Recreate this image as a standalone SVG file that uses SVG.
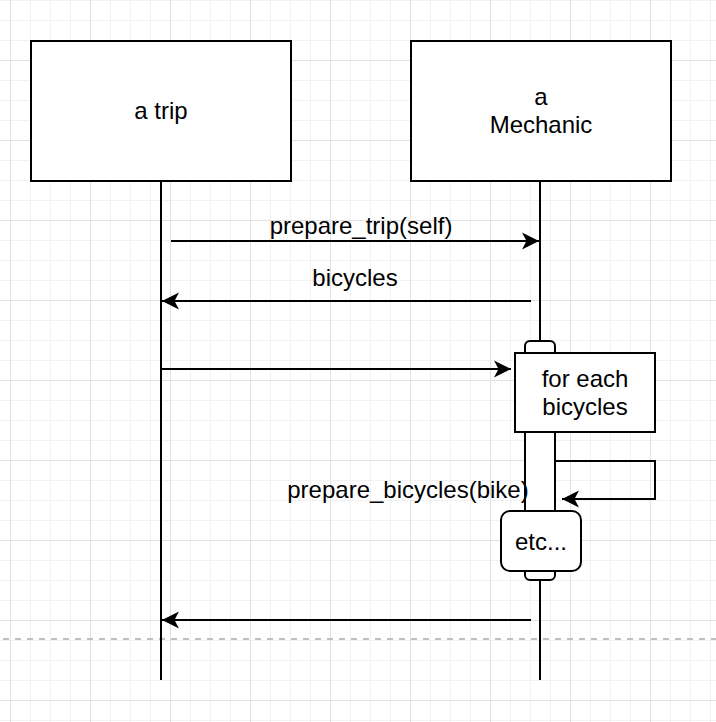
<svg xmlns="http://www.w3.org/2000/svg" width="716" height="722" viewBox="0 0 716 722">
<defs>
<style>
.minor{stroke:#f2f2f2;stroke-width:1;fill:none}
.major{stroke:#e2e2e2;stroke-width:1;fill:none}
.box{fill:#ffffff;stroke:#000000;stroke-width:2}
.life{stroke:#000000;stroke-width:2;fill:none}
.msg{stroke:#000000;stroke-width:2;fill:none}
.lbl{font-family:"Liberation Sans",Arial,Helvetica,sans-serif;font-size:24px;fill:#000000;text-anchor:middle}
</style>
<marker id="arr" markerUnits="userSpaceOnUse" markerWidth="20" markerHeight="20" viewBox="-18 -10 20 20" refX="0" refY="0" orient="auto">
<path d="M0,0 L-17,-8.5 L-12.5,0 L-17,8.5 Z" fill="#000000"/>
</marker>
</defs>
<rect x="0" y="0" width="716" height="722" fill="#ffffff"/>
<g id="grid">
<path class="minor" d="M30.5,0V722M50.5,0V722M70.5,0V722M110.5,0V722M130.5,0V722M150.5,0V722M190.5,0V722M210.5,0V722M230.5,0V722M270.5,0V722M290.5,0V722M310.5,0V722M350.5,0V722M370.5,0V722M390.5,0V722M430.5,0V722M450.5,0V722M470.5,0V722M510.5,0V722M530.5,0V722M550.5,0V722M590.5,0V722M610.5,0V722M630.5,0V722M670.5,0V722M690.5,0V722M710.5,0V722
M0,0.5H716M0,20.5H716M0,40.5H716M0,80.5H716M0,100.5H716M0,120.5H716M0,160.5H716M0,180.5H716M0,200.5H716M0,240.5H716M0,260.5H716M0,280.5H716M0,320.5H716M0,340.5H716M0,360.5H716M0,400.5H716M0,420.5H716M0,440.5H716M0,480.5H716M0,500.5H716M0,520.5H716M0,560.5H716M0,580.5H716M0,600.5H716M0,640.5H716M0,660.5H716M0,680.5H716M0,720.5H716"/>
<path class="major" d="M10.5,0V722M90.5,0V722M170.5,0V722M250.5,0V722M330.5,0V722M410.5,0V722M490.5,0V722M570.5,0V722M650.5,0V722
M0,60.5H716M0,140.5H716M0,220.5H716M0,300.5H716M0,380.5H716M0,460.5H716M0,540.5H716M0,620.5H716M0,700.5H716"/>
</g>
<path id="page-break" d="M3,639H716" stroke="#c0c0c0" stroke-width="2" stroke-dasharray="6 6" fill="none"/>
<g id="trip">
<line class="life" x1="161" y1="181" x2="161" y2="680"/>
<rect class="box" x="31" y="41" width="260" height="140"/>
<text class="lbl" x="161" y="119">a trip</text>
</g>
<g id="mechanic">
<line class="life" x1="540" y1="181" x2="540" y2="680"/>
<rect class="box" x="411" y="41" width="260" height="140"/>
<text class="lbl" x="541" y="105">a</text>
<text class="lbl" x="541" y="133">Mechanic</text>
</g>
<g id="activation">
<rect class="box" x="525" y="341" width="30" height="239" rx="5" ry="5"/>
</g>
<g id="foreach">
<rect class="box" x="515" y="353" width="140" height="79"/>
<text class="lbl" x="585" y="387">for each</text>
<text class="lbl" x="585" y="415">bicycles</text>
</g>
<g id="etc">
<rect class="box" x="501" y="511" width="80" height="60" rx="9" ry="9"/>
<text class="lbl" x="541" y="550">etc...</text>
</g>
<g id="connectors">
<line class="msg" x1="171" y1="241" x2="539" y2="241" marker-end="url(#arr)"/>
<text class="lbl" x="361" y="234">prepare_trip(self)</text>
<line class="msg" x1="531" y1="301" x2="162" y2="301" marker-end="url(#arr)"/>
<text class="lbl" x="355" y="286">bicycles</text>
<line class="msg" x1="161" y1="369" x2="511" y2="369" marker-end="url(#arr)"/>
<path class="msg" d="M555,461H655V499H562" marker-end="url(#arr)"/>
<text class="lbl" x="408" y="498">prepare_bicycles(bike)</text>
<line class="msg" x1="531" y1="620" x2="162" y2="620" marker-end="url(#arr)"/>
</g>
</svg>
